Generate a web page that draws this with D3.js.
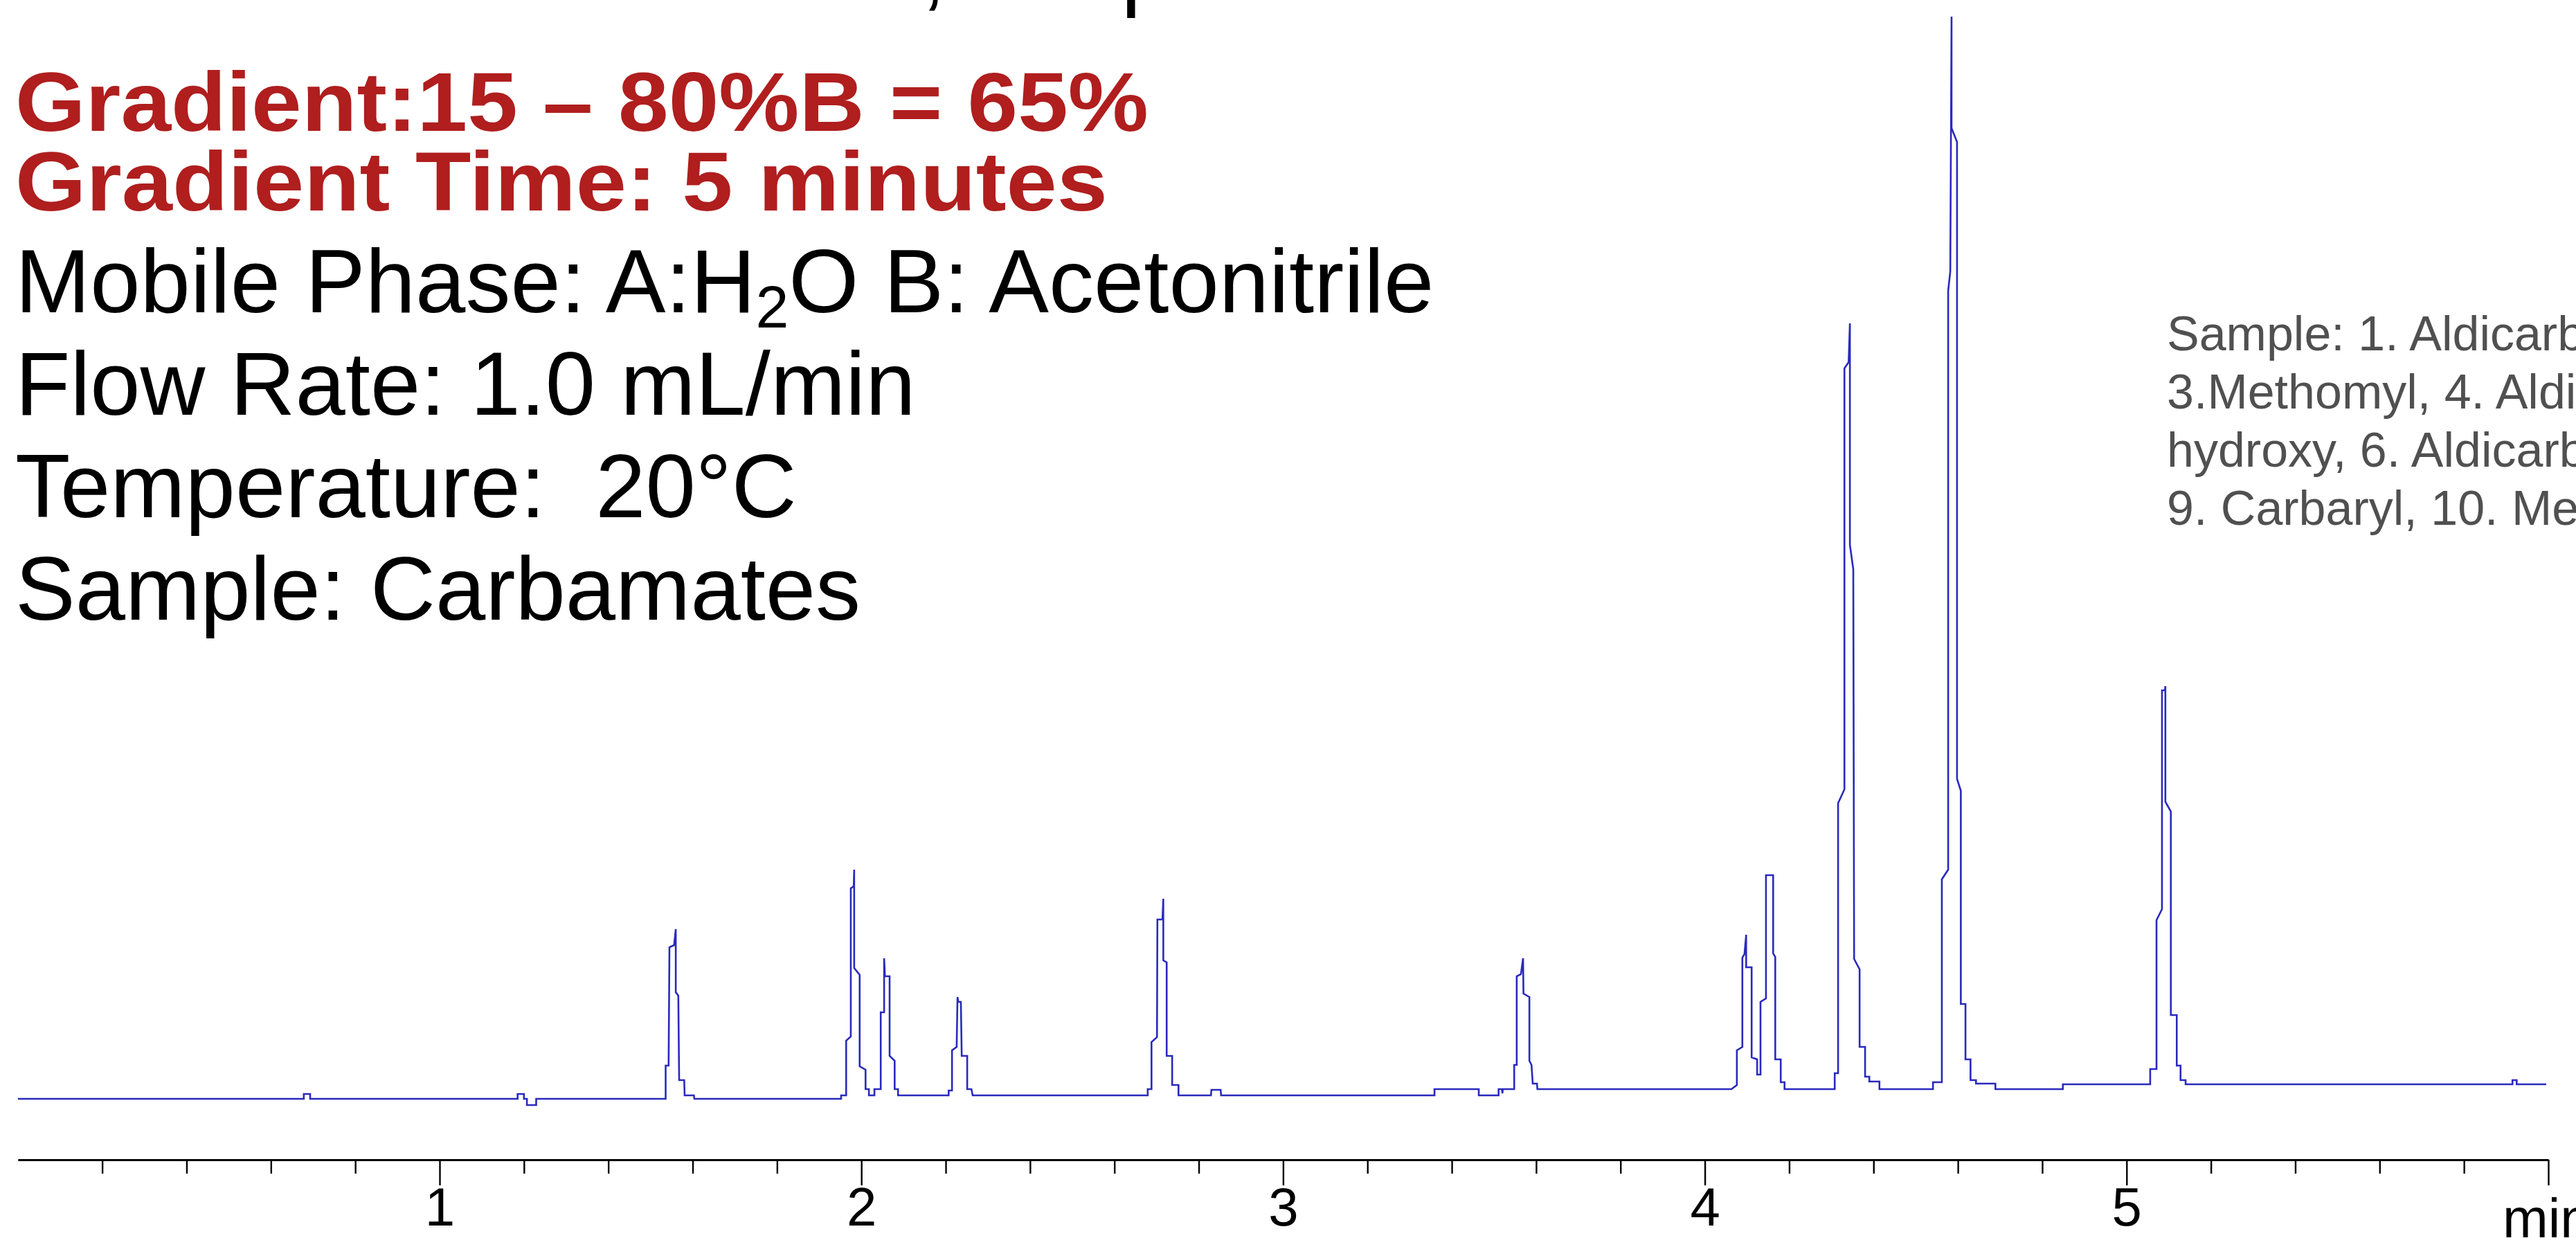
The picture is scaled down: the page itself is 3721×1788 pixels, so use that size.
<!DOCTYPE html>
<html>
<head>
<meta charset="utf-8">
<title>Carbamates - gradient separation</title>
<script src="https://cdn.jsdelivr.net/npm/d3@7"></script>
<style>
  html, body { margin: 0; padding: 0; background: #fff; }
  svg { display: block; font-family: "Liberation Sans", Arial, sans-serif; }
  text { white-space: pre; }
</style>
</head>
<body>
<div id="chart"></div>
<script>
// Trace: [time (min), signal (mAU)]
const lead = [[0, 0], [0.678, 0], [0.678, 0.7], [0.693, 0.7], [0.693, 0],
  [1.185, 0], [1.185, 0.7], [1.200, 0.7], [1.200, 0], [1.207, 0], [1.207, -0.9], [1.229, -0.9], [1.229, 0]];
const peakA = [[1.536, 0], [1.536, 4.8], [1.543, 4.8], [1.545, 21.9], [1.556, 22.2], [1.560, 24.5], [1.560, 15.4],
  [1.566, 14.9], [1.568, 2.7], [1.580, 2.7], [1.581, 0.5], [1.603, 0.5], [1.604, 0]];
const peakBC = [[1.952, 0], [1.952, 0.5], [1.964, 0.5], [1.964, 8.4], [1.975, 9.0], [1.975, 30.4], [1.982, 30.7],
  [1.983, 33.1], [1.983, 18.9], [1.996, 17.9], [1.996, 4.7], [2.010, 4.2], [2.010, 1.4], [2.018, 1.4], [2.018, 0.5],
  [2.031, 0.5], [2.031, 1.4], [2.046, 1.4], [2.046, 12.5], [2.054, 12.5], [2.054, 20.3], [2.056, 17.7], [2.067, 17.7],
  [2.067, 6.2], [2.079, 5.5], [2.079, 1.4], [2.087, 1.4], [2.087, 0.5]];
const peakD = [[2.207, 0.5], [2.207, 1.2], [2.215, 1.2], [2.215, 7.0], [2.226, 7.5], [2.228, 14.7], [2.230, 14.0],
  [2.236, 14.0], [2.238, 6.2], [2.251, 6.2], [2.251, 1.4], [2.261, 1.4], [2.264, 0.5]];
const peakE = [[2.679, 0.5], [2.679, 1.4], [2.688, 1.4], [2.688, 8.2], [2.701, 8.9], [2.702, 25.9], [2.714, 25.9],
  [2.716, 28.9], [2.716, 20.0], [2.724, 19.7], [2.724, 6.2], [2.737, 6.2], [2.737, 2.0], [2.752, 2.0], [2.752, 0.5],
  [2.829, 0.5], [2.830, 1.3], [2.852, 1.3], [2.853, 0.5]];
const peakF = [[3.359, 0.5], [3.359, 1.4], [3.464, 1.4], [3.464, 0.5], [3.511, 0.5], [3.511, 1.4], [3.519, 1.4],
  [3.520, 0.8], [3.521, 1.4], [3.548, 1.4], [3.548, 4.9], [3.554, 4.9], [3.554, 17.7], [3.564, 18.0], [3.569, 20.3],
  [3.570, 15.2], [3.584, 14.7], [3.584, 5.5], [3.589, 4.9], [3.592, 2.2], [3.602, 2.2], [3.603, 1.4]];
const peakGH = [[4.063, 1.4], [4.076, 2.0], [4.076, 7.0], [4.089, 7.5], [4.089, 20.4], [4.094, 20.9], [4.098, 23.7],
  [4.098, 19.0], [4.111, 19.0], [4.111, 6.0], [4.124, 5.7], [4.124, 3.5], [4.132, 3.5], [4.132, 14.0], [4.145, 14.5],
  [4.145, 32.3], [4.162, 32.3], [4.162, 21.0], [4.167, 20.5], [4.167, 5.7], [4.180, 5.7], [4.180, 2.4], [4.189, 2.4],
  [4.189, 1.4]];
const peakI = [[4.308, 1.4], [4.308, 3.7], [4.316, 3.7], [4.316, 42.7], [4.331, 44.7], [4.331, 105.5], [4.341, 106.4],
  [4.344, 112.0], [4.344, 80.0], [4.352, 76.5], [4.354, 20.2], [4.367, 18.7], [4.367, 7.5], [4.380, 7.5], [4.380, 3.2],
  [4.390, 3.2], [4.390, 2.5], [4.414, 2.5], [4.414, 1.4]];
const peakJ = [[4.541, 1.4], [4.541, 2.4], [4.562, 2.4], [4.562, 31.7], [4.577, 33.1], [4.577, 116.7], [4.582, 119.5],
  [4.585, 156.3], [4.585, 140.2], [4.598, 138.2], [4.598, 46.2], [4.607, 44.5], [4.607, 13.7], [4.618, 13.7],
  [4.618, 5.7], [4.630, 5.7], [4.630, 2.7], [4.643, 2.7], [4.643, 2.2], [4.689, 2.2], [4.689, 1.4], [4.849, 1.4],
  [4.849, 2.1]];
const peakK = [[5.056, 2.1], [5.056, 4.3], [5.071, 4.3], [5.071, 25.8], [5.084, 27.4], [5.084, 59.0], [5.091, 59.0],
  [5.092, 59.6], [5.092, 42.9], [5.105, 41.5], [5.105, 12.1], [5.119, 12.1], [5.119, 4.8], [5.128, 4.8], [5.128, 2.7],
  [5.140, 2.7], [5.140, 2.1], [5.915, 2.1], [5.915, 2.7], [5.925, 2.7], [5.925, 2.1], [5.995, 2.1]];

const majorTicks = [1, 2, 3, 4, 5, 6];
const majorLabels = ["1", "2", "3", "4", "5", ""];
const axisUnit = "min";

const columnLine = "4.6 x 50 mm, 2.7 µm";
const gradientLines = ["Gradient:15 – 80%B = 65%", "Gradient Time: 5 minutes"];
// each line is a list of [text, isSubscript] pieces
const conditionLines = [
  [["Mobile Phase: A:H", false], ["2", true], ["O B: Acetonitrile", false]],
  [["Flow Rate: 1.0 mL/min", false]],
  [["Temperature:  20°C", false]],
  [["Sample: Carbamates", false]]
];
const sampleLines = [
  "Sample: 1. Aldicarb sulfoxide, 2. Oxamyl,",
  "3.Methomyl, 4. Aldicarb sulfone, 5. Carbofuran-3-",
  "hydroxy, 6. Aldicarb, 7. Propoxur, 8. Carbofuran,",
  "9. Carbaryl, 10. Methiocarb"
];

const width = 3721;
const height = 1788;
const axisY = 1675;

const svg = d3.select("#chart")
  .append("svg")
  .attr("width", width)
  .attr("height", height);

svg.append("rect").attr("width", width).attr("height", height).attr("fill", "#fff");

const x = d3.scaleLinear().domain([0, 6]).range([25.8, 3681]);
const y = d3.scaleLinear().domain([0, 160]).range([1587, -13]);

// Trace
const trace = [].concat(lead, peakA, peakBC, peakD, peakE, peakF, peakGH, peakI, peakJ, peakK);
svg.append("path")
  .datum(trace)
  .attr("fill", "none")
  .attr("stroke", "#2a2abd")
  .attr("stroke-width", 2.6)
  .attr("stroke-linejoin", "miter")
  .attr("d", d3.line().x(d => x(d[0])).y(d => y(d[1])));

// Time axis: minor ticks every 0.2 min, labelled majors
const minorTicks = d3.range(1, 30).map(i => i / 5).filter(v => !Number.isInteger(v));

const minorAxis = svg.append("g")
  .attr("transform", `translate(0,${axisY})`)
  .call(d3.axisBottom(x).tickValues(minorTicks).tickSize(20).tickSizeOuter(0).tickFormat(""));
minorAxis.select(".domain").attr("stroke", "#000").attr("stroke-width", 3);
minorAxis.selectAll(".tick line").attr("stroke", "#000").attr("stroke-width", 2.4);

const majorAxis = svg.append("g")
  .attr("transform", `translate(0,${axisY})`)
  .call(d3.axisBottom(x).tickValues(majorTicks).tickSize(37).tickSizeOuter(0)
    .tickFormat((d, i) => majorLabels[i]));
majorAxis.select(".domain").remove();
majorAxis.selectAll(".tick line").attr("stroke", "#000").attr("stroke-width", 2.4);
majorAxis.selectAll(".tick text")
  .attr("y", 95)
  .attr("dy", null)
  .attr("fill", "#000")
  .style("font-size", "78px")
  .style("font-family", "'Liberation Sans', Arial, sans-serif");

svg.append("text")
  .attr("x", 3615)
  .attr("y", 1787)
  .attr("fill", "#000")
  .style("font-size", "79px")
  .text(axisUnit);

// Method text block
svg.append("text")
  .attr("x", 615)
  .attr("y", -1)
  .attr("fill", "#000")
  .style("font-size", "130px")
  .text(columnLine);

const gradientWidths = [1637, 1578];
gradientLines.forEach((line, i) => {
  svg.append("text")
    .attr("x", 22)
    .attr("y", 189 + i * 115)
    .attr("fill", "#b01e1e")
    .attr("textLength", gradientWidths[i])
    .attr("lengthAdjust", "spacingAndGlyphs")
    .style("font-size", "121px")
    .style("font-weight", "bold")
    .text(line);
});

conditionLines.forEach((pieces, i) => {
  const t = svg.append("text")
    .attr("x", 22)
    .attr("y", 451 + i * 148)
    .attr("fill", "#000")
    .style("font-size", "130px");
  pieces.forEach(([txt, sub], j) => {
    const prevSub = j > 0 && pieces[j - 1][1];
    t.append("tspan")
      .attr("dy", sub ? 22 : (prevSub ? -22 : 0))
      .style("font-size", sub ? "86px" : null)
      .text(txt);
  });
});

// Peak identification legend
sampleLines.forEach((line, i) => {
  svg.append("text")
    .attr("x", 3130)
    .attr("y", 506 + i * 84)
    .attr("fill", "#505050")
    .style("font-size", "70px")
    .text(line);
});
</script>
</body>
</html>
